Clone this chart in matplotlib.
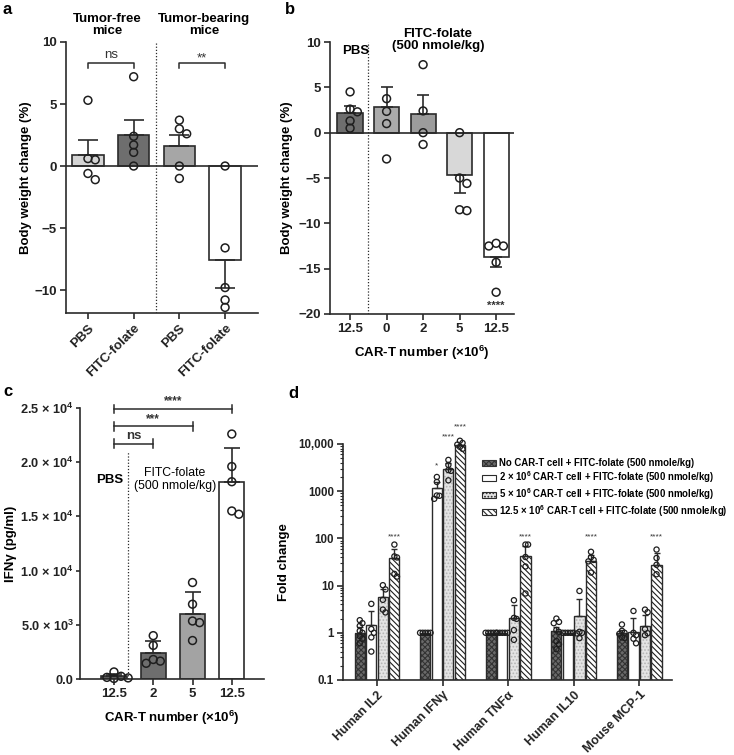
import numpy as np
import matplotlib
matplotlib.use("Agg")
import matplotlib.pyplot as plt
from matplotlib.patches import Patch

plt.rcParams['font.family'] = ['Liberation Sans', 'DejaVu Sans']
plt.rcParams['font.weight'] = 'bold'
plt.rcParams['axes.labelweight'] = 'bold'
plt.rcParams['mathtext.fontset'] = 'custom'
plt.rcParams['mathtext.rm'] = 'Liberation Sans:bold'
plt.rcParams['mathtext.default'] = 'rm'
plt.rcParams['hatch.linewidth'] = 0.8

INK = '#2b2b2b'

# ---------- data: panel a ----------
a_labels = ['PBS', 'FITC-folate', 'PBS', 'FITC-folate']
a_mean = [0.9, 2.5, 1.6, -7.6]
a_err = [1.2, 1.2, 0.9, 2.2]
a_pts = [[5.3, 0.6, 0.5, -0.6, -1.1],
         [7.2, 2.4, 1.7, 1.1, 0.0],
         [3.7, 3.0, 2.6, 0.0, -1.0],
         [0.0, -6.6, -9.8, -10.8, -11.4]]
a_colors = ['#d4d4d4', '#6e6e6e', '#a6a6a6', 'white']

# ---------- data: panel b ----------
b_labels = ['12.5', '0', '2', '5', '12.5']
b_mean = [2.2, 2.8, 2.1, -4.7, -13.7]
b_err = [0.7, 2.2, 2.0, 1.9, 1.1]
b_pts = [[4.5, 2.6, 2.3, 1.3, 0.5],
         [3.75, 2.35, 1.0, -2.9],
         [7.5, 2.4, 0.0, -1.3],
         [0.0, -5.0, -5.6, -8.5, -8.6],
         [-12.2, -12.5, -12.5, -14.3, -17.6]]
b_colors = ['#6e6e6e', '#ababab', '#9c9c9c', '#d8d8d8', 'white']

# ---------- data: panel c ----------
c_labels = ['12.5', '2', '5', '12.5']
c_mean = [250, 2400, 6000, 18200]
c_err = [250, 1150, 2000, 3100]
c_pts = [[650, 250, 100, 50, 150],
         [4000, 3100, 1800, 1450, 1650],
         [8900, 6900, 5350, 5200, 3550],
         [22600, 19600, 18200, 15500, 15200]]
c_colors = ['#5e5e5e', '#6e6e6e', '#a3a3a3', 'white']

# ---------- data: panel d ----------
d_groups = ['Human IL2', 'Human IFNγ', 'Human TNFα', 'Human IL10', 'Mouse MCP-1']
d_series = ['No CAR-T cell + FITC-folate (500 nmole/kg)',
            '2 × 10$^6$ CAR-T cell + FITC-folate (500 nmole/kg)',
            '5 × 10$^6$ CAR-T cell + FITC-folate (500 nmole/kg)',
            '12.5 × 10$^6$ CAR-T cell + FITC-folate (500 nmole/kg)']
d_mean = [[1.0, 1.0, 1.0, 1.1, 1.0],
          [1.45, 1150, 1.0, 1.0, 1.05],
          [5.7, 3000, 2.1, 2.3, 1.4],
          [38, 9500, 42, 34, 27.6]]
d_top = [[1.35, 1.0, 1.0, 1.35, 1.15],
         [2.9, 1550, 1.0, 1.0, 2.07],
         [8.3, 3900, 3.8, 5.3, 2.44],
         [60, 11000, 68, 45, 49]]
d_pts = [
    [[1.85, 1.6, 1.4, 1.1, 1.0, 0.85, 0.75, 0.6], [1, 1, 1, 1, 1], [1, 1, 1, 1, 1],
     [2.0, 1.7, 1.6, 1.15, 1.05, 0.67, 0.57, 0.45], [1.5, 1.1, 1.0, 0.95, 0.8, 0.78]],
    [[4.1, 1.2, 1.0, 0.8, 0.4], [2000, 1570, 810, 690, 800], [1, 1, 1, 1, 1],
     [1, 1, 1, 1, 1], [2.9, 1.0, 0.89, 0.75, 0.6]],
    [[10.2, 8.3, 5.0, 3.1, 2.7], [4600, 3600, 2800, 2700, 1700], [4.9, 2.07, 1.97, 1.14, 0.71],
     [7.7, 1.05, 1.0, 0.97, 0.77], [3.1, 2.73, 1.2, 0.98, 0.89]],
    [[74, 41.6, 39.5, 17.7, 15.5], [11700, 10500, 9700, 8700, 7900], [74, 74, 40.3, 25.4, 6.8],
     [52, 40, 35, 32.6, 18.9], [58, 38.4, 27.6, 17.4]],
]
d_stars = [[None, None, None, None, None],
           [None, '*', None, None, None],
           [None, '****', None, None, None],
           ['****', '****', '****', '****', '****']]
d_star_y = [[0, 0, 0, 0, 0], [0, 3500, 0, 0, 0], [0, 14000, 0, 0, 0], [108, 23000, 108, 108, 108]]


def swarm(vals, ygap, step):
    """simple beeswarm offsets: points closer than one marker get pushed sideways"""
    vals = np.asarray(vals, float)
    offs = np.zeros(len(vals))
    done = []
    cands = [0.0]
    for j in range(1, 12):
        cands += [j * step, -j * step]
    for i in np.argsort(-vals, kind='stable'):
        for c in cands:
            if all(((c - offs[k]) / step) ** 2 + ((vals[i] - vals[k]) / ygap) ** 2 >= 0.999 for k in done):
                offs[i] = c
                break
        done.append(i)
    return offs


def style(ax):
    for s in ['top', 'right']:
        ax.spines[s].set_visible(False)
    for s in ['left', 'bottom']:
        ax.spines[s].set_color(INK)
        ax.spines[s].set_linewidth(1.2)
    ax.tick_params(colors=INK, width=1.2, length=4, pad=2.5, labelcolor='#222')


def simple_bars(ax, x, mean, err, pts, colors, width, cap, ygap, step):
    ax.bar(x, mean, width, color=colors, edgecolor=INK, linewidth=1.2, zorder=2)
    lo = [e if m < 0 else 0 for m, e in zip(mean, err)]
    hi = [0 if m < 0 else e for m, e in zip(mean, err)]
    ax.errorbar(x, mean, yerr=[lo, hi], fmt='none', ecolor=INK, elinewidth=1.2,
                capsize=cap, capthick=1.2, zorder=3)
    for xi, p in zip(x, pts):
        off = swarm(p, ygap, step)
        ax.scatter(xi + off, p, s=32, facecolors='none', edgecolors='#1e1e1e',
                   linewidths=1.1, zorder=4, clip_on=False)


fig = plt.figure(figsize=(7.34, 7.55), dpi=100)

# ================= panel a =================
ax = fig.add_axes([66 / 734, 1 - 313 / 755, 192 / 734, 271 / 755])
style(ax)
xa = np.arange(len(a_labels))
simple_bars(ax, xa, a_mean, a_err, a_pts, a_colors, 0.69, 7, 0.56, 0.16)
ax.axhline(0, color=INK, lw=1.2, zorder=2.5)
ax.axvline(1.49, color=INK, lw=0.9, ls=(0, (1, 1.5)), zorder=1)
ax.set_xlim(-0.48, 3.72)
ax.set_ylim(-11.85, 10)
ax.set_yticks([-10, -5, 0, 5, 10])
ax.set_yticklabels(['−10', '−5', '0', '5', '10'], fontsize=9.5)
ax.set_xticks(xa)
ax.set_xticklabels(a_labels, rotation=45, ha='right', rotation_mode='anchor', fontsize=9.5)
ax.set_ylabel('Body weight change (%)', fontsize=9.5, labelpad=1.5)
for x0, x1, t in [(0, 1, 'ns'), (2, 3, '**')]:
    ax.plot([x0, x0, x1, x1], [7.9, 8.3, 8.3, 7.9], color=INK, lw=1.1, zorder=3)
    ax.text((x0 + x1) / 2, 8.5 if t == 'ns' else 8.2, t, ha='center', va='bottom',
            fontsize=9.5, fontweight='normal', color='#333')
fig.text(107 / 734, 1 - 25 / 755, 'Tumor-free\nmice', ha='center', va='center',
         fontsize=9.5, linespacing=1.05)
fig.text(204 / 734, 1 - 25 / 755, 'Tumor-bearing\nmice', ha='center', va='center',
         fontsize=9.5, linespacing=1.05)
fig.text(3 / 734, 1 - 10 / 755, 'a', fontsize=12, va='center')

# ================= panel b =================
ax = fig.add_axes([330 / 734, 1 - 314 / 755, 184 / 734, 272 / 755])
style(ax)
xb = np.arange(len(b_labels))
simple_bars(ax, xb, b_mean, b_err, b_pts, b_colors, 0.69, 4.5, 0.75, 0.2)
ax.axhline(0, color=INK, lw=1.2, zorder=2.5)
ax.axvline(0.49, color=INK, lw=0.9, ls=(0, (1, 1.5)), zorder=1)
ax.set_xlim(-0.55, 4.49)
ax.set_ylim(-20, 10)
ax.set_yticks([-20, -15, -10, -5, 0, 5, 10])
ax.set_yticklabels(['−20', '−15', '−10', '−5', '0', '5', '10'], fontsize=9.5)
ax.set_xticks(xb)
ax.set_xticklabels(b_labels, fontsize=9.5)
ax.set_ylabel('Body weight change (%)', fontsize=9.5, labelpad=4)
ax.set_xlabel('CAR-T number (×10$^6$)', fontsize=9.5, labelpad=6)
ax.text(0.14, 9.0, 'PBS', ha='center', va='center', fontsize=9.5)
ax.text(2.41, 10.2, 'FITC-folate\n(500 nmole/kg)', ha='center', va='center',
        fontsize=9.5, linespacing=1.05, clip_on=False)
ax.text(4, -19.1, '****', ha='center', va='center', fontsize=8, color='#333')
fig.text(285 / 734, 1 - 10 / 755, 'b', fontsize=12, va='center')

# ================= panel c =================
ax = fig.add_axes([80 / 734, 1 - 679 / 755, 184 / 734, 271 / 755])
style(ax)
xc = np.arange(len(c_labels))
simple_bars(ax, xc, c_mean, c_err, c_pts, c_colors, 0.64, 5.5, 600, 0.18)
ax.plot([0.36, 0.36], [0, 21000], color=INK, lw=0.9, ls=(0, (1, 1.5)), zorder=1)
ax.set_xlim(-0.865, 3.82)
ax.set_ylim(0, 25000)
ax.set_yticks([0, 5000, 10000, 15000, 20000, 25000])
ax.set_yticklabels(['0.0', '5.0 × 10$^3$', '1.0 × 10$^4$', '1.5 × 10$^4$',
                    '2.0 × 10$^4$', '2.5 × 10$^4$'], fontsize=9.2)
ax.tick_params(axis='y', length=3, pad=1.5)
ax.set_xticks(xc)
ax.set_xticklabels(c_labels, fontsize=9.5)
ax.set_ylabel('IFNγ (pg/ml)', fontsize=9.5, labelpad=2)
ax.set_xlabel('CAR-T number (×10$^6$)', fontsize=9.5, labelpad=6)
for x1, yb, t in [(1, 21700, 'ns'), (2, 23300, '***'), (3, 24900, '****')]:
    ax.plot([0, x1], [yb, yb], color=INK, lw=1.1, clip_on=False)
    ax.plot([0, 0], [yb - 400, yb + 400], color=INK, lw=1.1, clip_on=False)
    ax.plot([x1, x1], [yb - 400, yb + 400], color=INK, lw=1.1, clip_on=False)
    ax.text(x1 / 2, yb + 150, t, ha='center', va='bottom', fontsize=9.5 if t == 'ns' else 8.5,
            color='#333', clip_on=False)
ax.text(-0.1, 18400, 'PBS', ha='center', va='center', fontsize=9.5)
ax.text(1.55, 18400, 'FITC-folate\n(500 nmole/kg)', ha='center', va='center',
        fontsize=8.8, fontweight='normal', linespacing=1.1)
fig.text(3 / 734, 1 - 392 / 755, 'c', fontsize=12, va='center')

# ================= panel d =================
ax = fig.add_axes([343 / 734, 1 - 680 / 755, 329 / 734, 236 / 755])
style(ax)
ax.set_yscale('log')
ax.set_ylim(0.1, 10000)
ax.set_xlim(-0.52, 4.5)
xd = np.arange(len(d_groups))
bw, gap = 0.155, 0.176
faces = ['#6a6a6a', 'white', '#e4e4e4', 'white']
hatches = ['xxxxxx', None, '.....', '\\\\\\\\\\\\']
hcols = ['#333333', 'white', '#b5b5b5', '#1e1e1e']
handles = []
for s in range(4):
    xs = xd + (s - 1.5) * gap
    ax.bar(xs, d_mean[s], bw, color=faces[s], edgecolor=hcols[s], hatch=hatches[s],
           linewidth=0, zorder=2)
    ax.bar(xs, d_mean[s], bw, fill=False, edgecolor=INK, linewidth=1.0, zorder=2.2)
    yerr = np.array(d_top[s]) - np.array(d_mean[s])
    ax.errorbar(xs, d_mean[s], yerr=[np.zeros(5), yerr], fmt='none', ecolor=INK,
                elinewidth=1.0, capsize=2, capthick=1.0, zorder=3)
    for g in range(5):
        p = d_pts[s][g]
        off = swarm(np.log10(p), 0.1, 0.04)
        ax.scatter(xs[g] + off, p, s=14, facecolors='none', edgecolors='#1e1e1e',
                   linewidths=0.9, zorder=4, clip_on=False)
        if d_stars[s][g]:
            ax.text(xs[g], d_star_y[s][g], d_stars[s][g], ha='center', va='center',
                    fontsize=6, fontweight='normal', color='#333', clip_on=False)
    handles.append(Patch(facecolor=faces[s], edgecolor=INK if s != 0 else '#333333',
                         hatch=hatches[s], linewidth=0.8))
ax.set_yticks([0.1, 1, 10, 100, 1000, 10000])
ax.set_yticklabels(['0.1', '1', '10', '100', '1000', '10,000'], fontsize=8.3)
ax.tick_params(axis='y', which='minor', length=2, width=0.8, colors=INK)
ax.set_xticks(xd)
ax.set_xticklabels(d_groups, rotation=45, ha='right', rotation_mode='anchor', fontsize=9)
ax.set_ylabel('Fold change', fontsize=9.5, labelpad=6)
leg = ax.legend(handles, d_series, loc='upper left', bbox_to_anchor=(0.4225, 0.94),
                frameon=False, fontsize=6.9, handlelength=1.45, handleheight=0.6,
                handletextpad=0.35, labelspacing=0.12, borderaxespad=0, borderpad=0)
fig.text(288 / 734, 1 - 393 / 755, 'd', fontsize=12, va='center')

fig.savefig('out.png', dpi=100)
